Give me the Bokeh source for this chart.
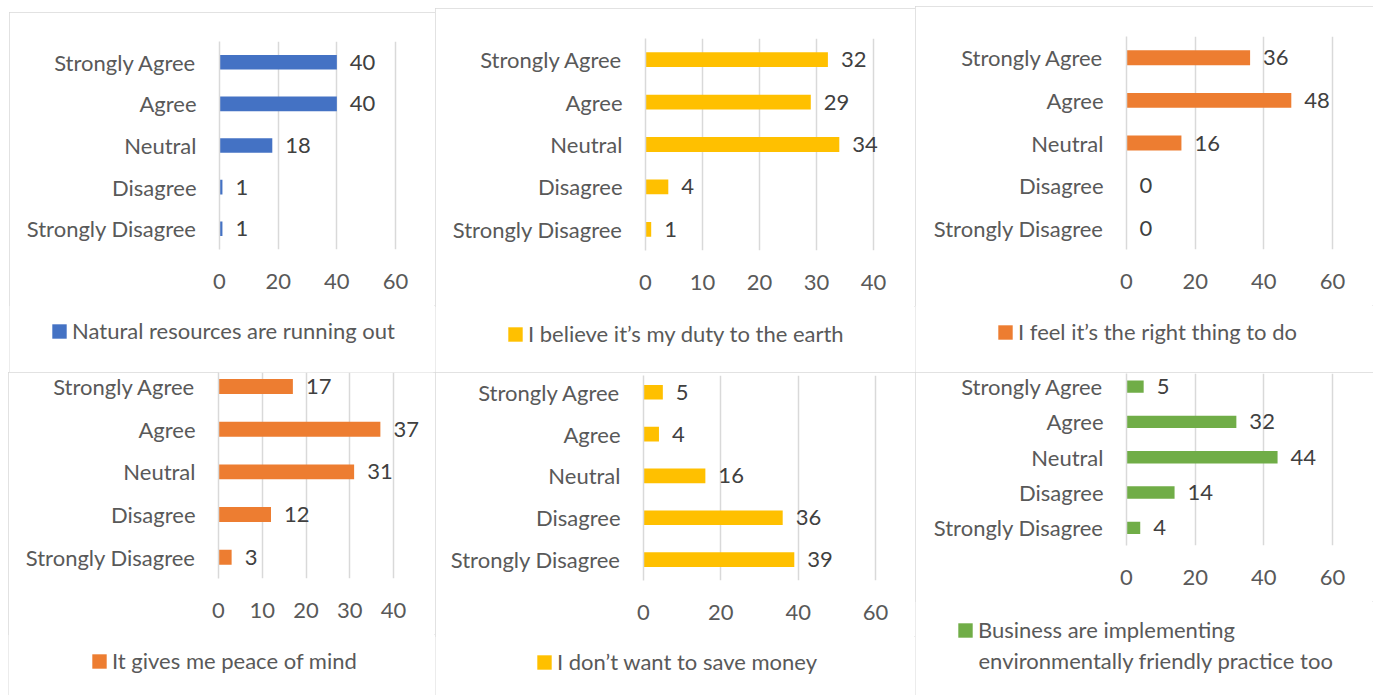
from bokeh.plotting import figure
from bokeh.models import Range1d, FixedTicker, ColumnDataSource, Legend, LegendItem, Label
from bokeh.layouts import column, row
from bokeh.embed import file_html
from bokeh.resources import INLINE
from bokeh.core.properties import value

# ---------------- data ----------------
categories = ["Strongly Agree", "Agree", "Neutral", "Disagree", "Strongly Disagree"]

natural_resources = [40, 40, 18, 1, 1]
duty_to_earth = [32, 29, 34, 4, 1]
right_thing = [36, 48, 16, 0, 0]
peace_of_mind = [17, 37, 31, 12, 3]
save_money = [5, 4, 16, 36, 39]
business_practice = [5, 32, 44, 14, 4]

series_names = [
    "Natural resources are running out",
    "I believe it\u2019s my duty to the earth",
    "I feel it\u2019s the right thing to do",
    "It gives me peace of mind",
    "I don\u2019t want to save money",
    "Business are implementing\nenvironmentally friendly practice too",
]
axis_max = [60, 40, 60, 40, 60, 60]
axis_step = [20, 10, 20, 10, 20, 20]

# ---------------- style ----------------
FONT = "Lato"
FS = "22px"
AXIS_COL = "#595959"
LABEL_COL = "#404040"
GRID_COL = "#D9D9D9"
BLUE, YELLOW, ORANGE, GREEN = "#4472C4", "#FFC000", "#ED7D31", "#70AD47"


def panel(values, name, color, xmax, xstep, box, frame, yr, leg_pos, margin):
    x0, y0, x1, y1 = box
    f_left, f_top, f_bottom, f_xmax = frame
    sq_left, leg_cy = leg_pos
    W = x1 - x0
    split = f_bottom + 56
    ml, mt, mb, mr = f_left - x0, f_top - y0, split - f_bottom, 2
    x_end = xmax * (W - ml - mr) / (f_xmax - f_left)

    n = len(categories)
    ypos = [n - 1 - i for i in range(n)]
    src = ColumnDataSource(dict(y=ypos, v=values, lab=[str(v) for v in values]))
    p = figure(width=W, height=split - y0, x_range=Range1d(0, x_end), y_range=Range1d(*yr),
               min_border_left=ml, min_border_right=mr, min_border_top=mt, min_border_bottom=mb,
               toolbar_location=None, output_backend="svg", frame_align=False)
    p.outline_line_color = None
    p.hbar(y="y", right="v", left=0, height=0.35, fill_color=color, line_color=None, source=src)
    p.text(x="v", y="y", text="lab", source=src, x_offset=13, text_align="left",
           text_baseline="middle", text_font=value(FONT), text_font_size=value(FS),
           text_color=LABEL_COL)

    xt = list(range(0, xmax + 1, xstep))
    p.xaxis.ticker = FixedTicker(ticks=xt)
    p.xgrid.ticker = FixedTicker(ticks=xt)
    p.xgrid.grid_line_color = GRID_COL
    p.xgrid.grid_line_width = 1.5
    p.ygrid.visible = False

    p.yaxis.ticker = FixedTicker(ticks=ypos)
    p.yaxis.major_label_overrides = {yv: c for yv, c in zip(ypos, categories)}

    for ax in (p.xaxis[0], p.yaxis[0]):
        ax.major_tick_line_color = None
        ax.minor_tick_line_color = None
        ax.major_label_text_font = FONT
        ax.major_label_text_font_size = FS
        ax.major_label_text_color = AXIS_COL
    p.xaxis.axis_line_color = None
    p.xaxis.major_label_standoff = 18
    p.yaxis.axis_line_color = GRID_COL
    p.yaxis.axis_line_width = 1.5
    p.yaxis.major_label_standoff = 17

    # legend strip under the chart: it holds the same bars, scrolled out of view,
    # so that the legend key is drawn in the series colour
    lh = y1 - split
    lf = figure(width=W, height=lh, x_range=Range1d(0, 1), y_range=Range1d(n + 1, n + 2),
                min_border=0, toolbar_location=None, output_backend="svg",
                x_axis_type=None, y_axis_type=None, frame_align=False)
    lf.outline_line_color = None
    lf.grid.visible = False
    key = lf.hbar(y="y", right="v", left=0, height=0.35, fill_color=color, line_color=None,
                  source=src)
    lines = name.split("\n")
    leg = Legend(items=[LegendItem(label=value(lines[0]), renderers=[key])],
                 location=(sq_left - 2 - x0, y1 - (leg_cy + 11)),
                 orientation="horizontal", border_line_color=None, background_fill_alpha=0,
                 padding=0, margin=0, glyph_width=18, glyph_height=18, label_standoff=4,
                 label_text_font=FONT, label_text_font_size=FS, label_text_color=AXIS_COL,
                 label_height=22)
    lf.add_layout(leg)
    for k, extra in enumerate(lines[1:], start=1):
        lf.add_layout(Label(x=sq_left - x0 + 20, y=y1 - leg_cy - 27.5 * k,
                            x_units="screen", y_units="screen", text=extra,
                            text_font=FONT, text_font_size=FS, text_color=AXIS_COL,
                            text_baseline="middle", text_align="left"))

    return column(p, lf, margin=margin, spacing=0,
                  styles={"outline": "1.5px solid #D9D9D9", "outline-offset": "-1px"})


c1 = panel(natural_resources, series_names[0], BLUE, axis_max[0], axis_step[0],
           (9, 12, 435, 372), (219, 41, 249, 395), (-0.5, 4.5), (52, 333), (12, 0, 0, 9))
c2 = panel(duty_to_earth, series_names[1], YELLOW, axis_max[1], axis_step[1],
           (435, 8, 915, 372), (645, 38, 250, 873), (-0.5, 4.5), (508, 336), (8, 0, 0, 0))
c3 = panel(right_thing, series_names[2], ORANGE, axis_max[2], axis_step[2],
           (915, 6, 1373, 372), (1126, 36, 249, 1332), (-0.5, 4.5), (998, 334), (6, 0, 0, 0))
c4 = panel(peace_of_mind, series_names[3], ORANGE, axis_max[3], axis_step[3],
           (8, 372, 435, 695), (218, 372, 578, 393), (-0.5, 4.33), (92, 663), (0, 0, 0, 8))
c5 = panel(save_money, series_names[4], YELLOW, axis_max[4], axis_step[4],
           (435, 372, 915, 695), (643, 375, 580, 875), (-0.5, 4.4), (537, 664), (0, 0, 0, 0))
c6 = panel(business_practice, series_names[5], GREEN, axis_max[5], axis_step[5],
           (915, 372, 1373, 695), (1126, 373, 545, 1332), (-0.5, 4.37), (958, 632), (0, 0, 0, 0))

layout = column(row(c1, c2, c3), row(c4, c5, c6))
open("out.html", "w").write(file_html(layout, INLINE))
